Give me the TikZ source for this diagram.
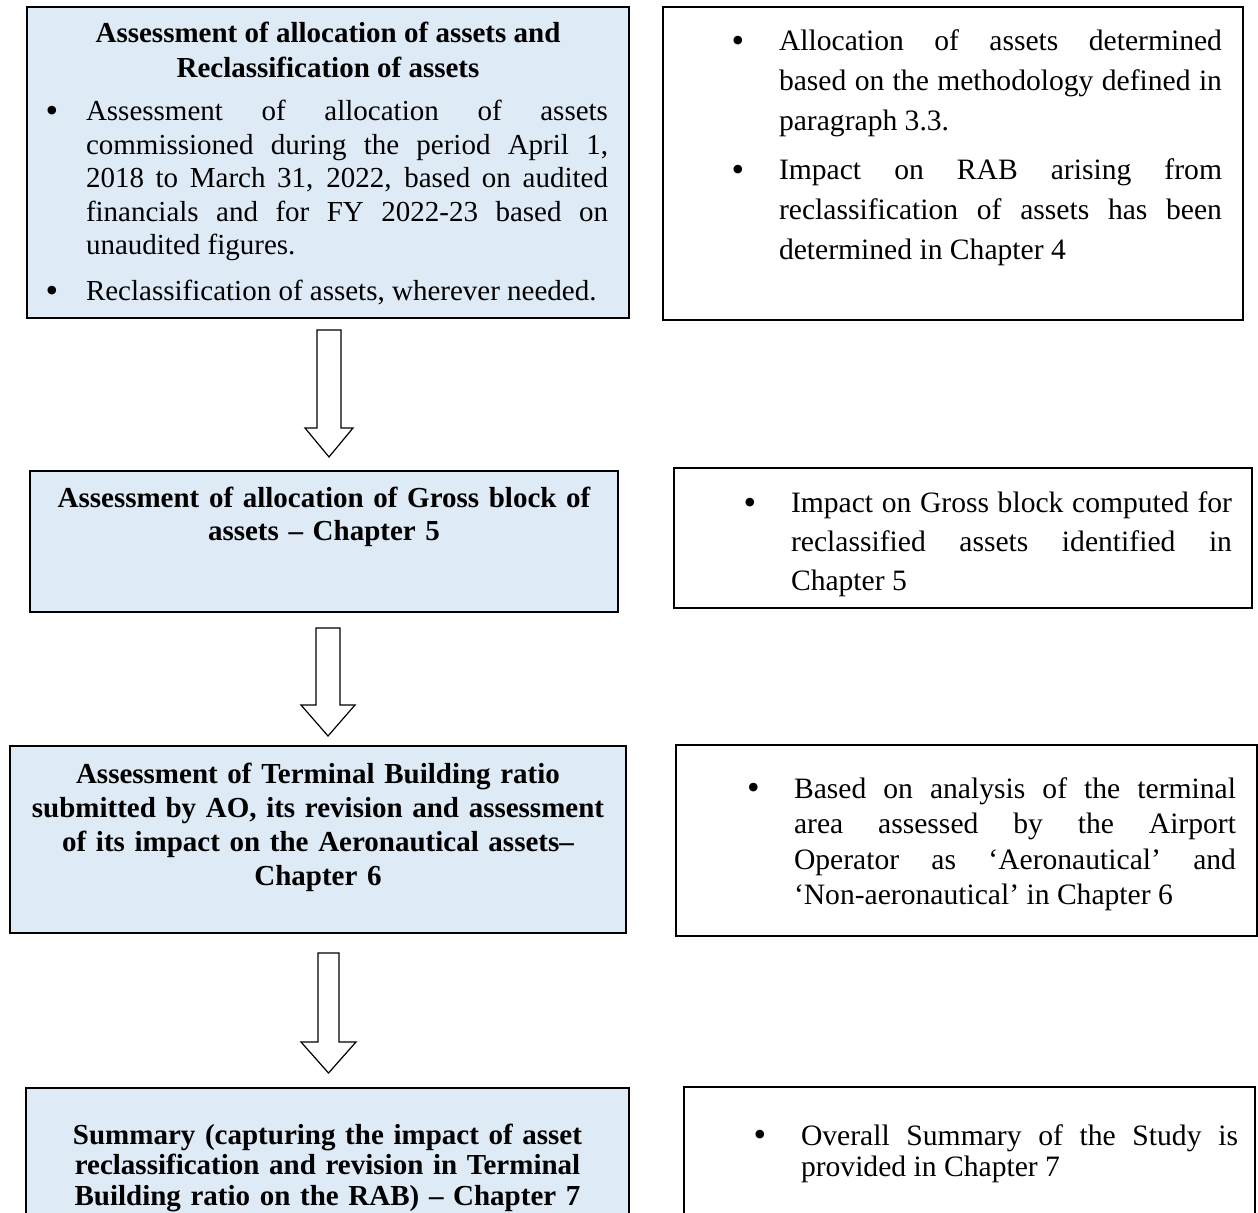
\documentclass[tikz,border=0pt]{standalone}
\usepackage{fontspec}
\setmainfont{Liberation Serif}
\usetikzlibrary{positioning}
\definecolor{boxblue}{HTML}{DEEAF6}
\setlength{\parskip}{0pt}
\newcommand{\bulletitem}[3]{{\setlength{\leftskip}{#1}\noindent\llap{\makebox[0pt][c]{\raisebox{-0.8pt}{\fontsize{18}{18}\selectfont\textbullet}}\hspace{#2}}#3\par}}

\begin{document}
\begin{tikzpicture}[
  stepbox/.style={rectangle, draw, line width=0.9pt, fill=boxblue, inner ysep=0pt, outer sep=0pt, font=\fontsize{14.5}{16.75}\selectfont},
  notebox/.style={rectangle, draw, line width=0.9pt, inner ysep=0pt, inner xsep=10pt, outer sep=0pt, align=justify, font=\fontsize{14.8}{20}\selectfont},
  flow/.style={draw, line width=0.6pt, fill=white}
]
\useasboundingbox (0,0) rectangle (629pt,-606.5pt);

\node[stepbox, anchor=north west, align=justify, inner xsep=10.5pt, text width=280pt, text height=18pt, text depth=137.5pt] (l1) at (13.5pt,-3.5pt) {%
  {\centering\bfseries\baselineskip=17.5pt Assessment of allocation of assets and\\ Reclassification of assets\par}
  \vspace{4.75pt}
  \bulletitem{19pt}{17pt}{Assessment of allocation of assets\linebreak commissioned during the period April 1,\linebreak 2018 to March 31, 2022, based on audited\linebreak financials and for FY 2022-23 based on\linebreak unaudited figures.}
  \vspace{6.25pt}
  \bulletitem{19pt}{17pt}{Reclassification of assets, wherever needed.}};
\node[stepbox, below=76.5pt of l1, xshift=-2pt, align=center, font=\fontsize{14.5}{16.5}\selectfont\bfseries, inner xsep=10pt, text width=274pt, text height=18.5pt, text depth=52pt] (l2) {Assessment of allocation of Gross block of\\ assets – Chapter 5};
\node[stepbox, below=67pt of l2, xshift=-3pt, align=center, font=\fontsize{14.5}{17}\selectfont\bfseries, inner xsep=8pt, text width=292pt, text height=18.5pt, text depth=75pt] (l3) {Assessment of Terminal Building ratio\\ submitted by AO, its revision and assessment\\ of its impact on the Aeronautical assets–\\ Chapter 6};
\node[stepbox, below=77.5pt of l3, xshift=4.75pt, align=center, font=\fontsize{14.5}{15.25}\selectfont\bfseries, inner xsep=10pt, text width=281.5pt, text height=28pt, text depth=48pt] (l4) {Summary (capturing the impact of asset\\ reclassification and revision in Terminal\\ Building ratio on the RAB) – Chapter 7};

\node[notebox, right=17pt of l1.north east, anchor=north west, inner xsep=10.5pt, text width=269pt, text height=22pt, text depth=134.5pt] (r1) {%
  \bulletitem{47.5pt}{20.5pt}{Allocation of assets determined\linebreak based on the methodology defined in\linebreak paragraph 3.3.}
  \vspace{4.5pt}
  \bulletitem{47.5pt}{20.5pt}{Impact on RAB arising from\linebreak reclassification of assets has been\linebreak determined in Chapter 4}};
\node[notebox, right=28pt of l2.north east, anchor=north west, yshift=1.5pt, font=\fontsize{14.8}{19.5}\selectfont, text width=269pt, text height=22.5pt, text depth=47.5pt] (r2) {%
  \bulletitem{48.5pt}{20.5pt}{Impact on Gross block computed for\linebreak reclassified assets identified in\linebreak Chapter 5}};
\node[notebox, right=25pt of l3.north east, anchor=north west, yshift=0.5pt, font=\fontsize{14.8}{17.8}\selectfont, inner xsep=10.5pt, text width=269.5pt, text height=26.5pt, text depth=69pt] (r3) {%
  \bulletitem{48.5pt}{20.25pt}{Based on analysis of the terminal\linebreak area assessed by the Airport\linebreak Operator as ‘Aeronautical’ and\linebreak ‘Non-aeronautical’ in Chapter 6}};
\node[notebox, right=27.5pt of l4.north east, anchor=north west, yshift=0.5pt, font=\fontsize{14.8}{15.5}\selectfont, inner xsep=8.5pt, text width=268.5pt, text height=29pt, text depth=47.5pt] (r4) {%
  \bulletitem{50pt}{20.5pt}{Overall Summary of the Study is\linebreak provided in Chapter 7}};

\draw[flow] ([xshift=-5.5pt,yshift=-6pt]l1.south) -- ++(0,-49pt) -- ++(-6pt,0) -- ++(12pt,-14.5pt) -- ++(12pt,14.5pt) -- ++(-6pt,0) -- ++(0,49pt) -- cycle;
\draw[flow] ([xshift=-4pt,yshift=-8pt]l2.south) -- ++(0,-38.5pt) -- ++(-7.5pt,0) -- ++(13.5pt,-15.5pt) -- ++(13.5pt,15.5pt) -- ++(-7.5pt,0) -- ++(0,38.5pt) -- cycle;
\draw[flow] ([yshift=-10pt]l3.south) -- ++(0,-44.5pt) -- ++(-8.5pt,0) -- ++(13.75pt,-15.5pt) -- ++(13.75pt,15.5pt) -- ++(-8.5pt,0) -- ++(0,44.5pt) -- cycle;
\end{tikzpicture}
\end{document}
